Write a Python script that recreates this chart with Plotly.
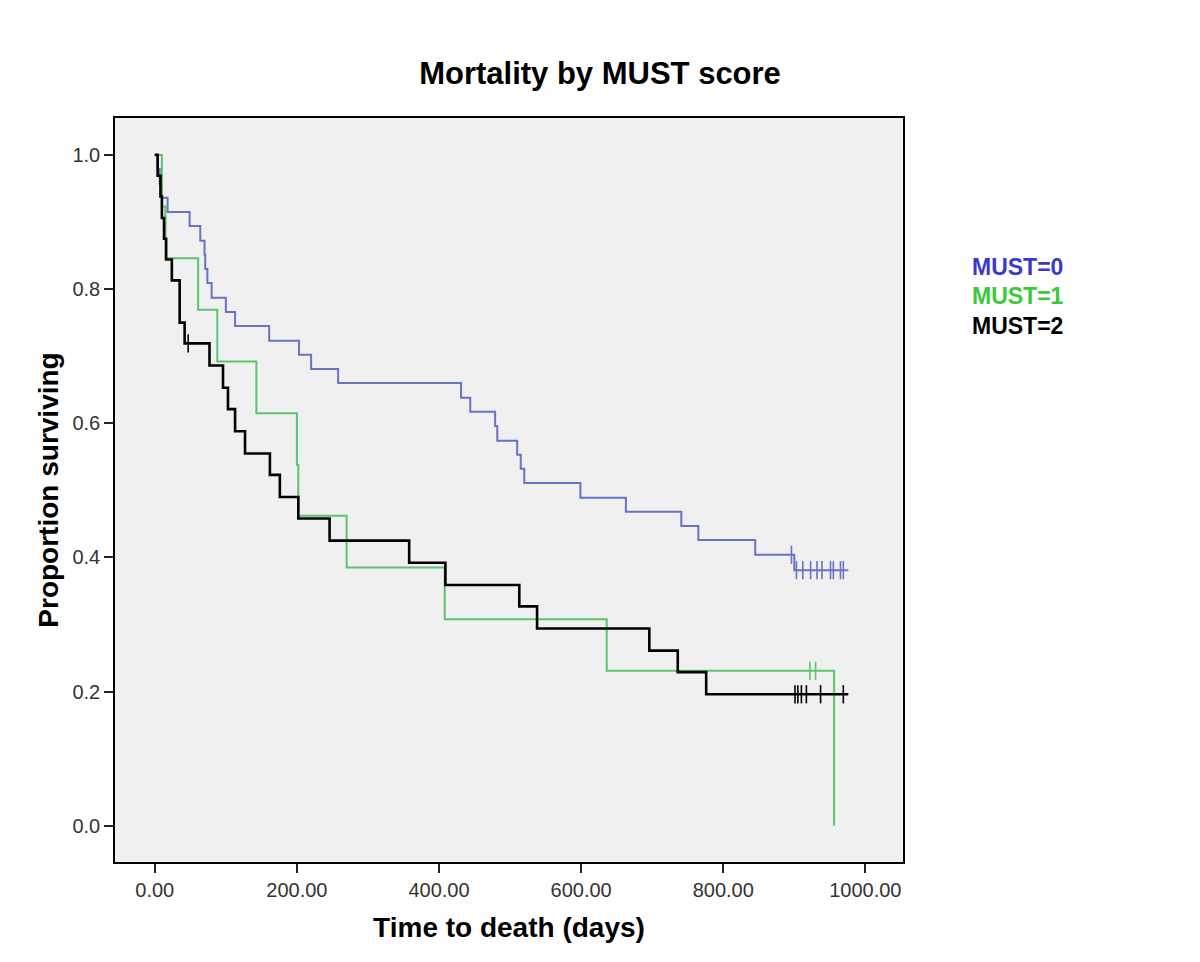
import plotly.graph_objects as go

# ---------------- data ----------------
groups = ["MUST=0", "MUST=1", "MUST=2"]

must0_days = [0, 4, 7, 10, 18, 49, 64, 70, 71, 74, 80, 100, 113, 161, 203, 220, 258,
              431, 444, 479, 482, 510, 515, 520, 599, 663, 741, 765, 845, 900]
must0_surv = [1.0, 0.979, 0.957, 0.936, 0.915, 0.894, 0.872, 0.851, 0.830, 0.809, 0.787,
              0.766, 0.745, 0.723, 0.702, 0.681, 0.660, 0.638, 0.617, 0.596, 0.574,
              0.553, 0.532, 0.511, 0.489, 0.468, 0.447, 0.426, 0.404, 0.381]
must0_last_day = 976
must0_cens_days = [896, 903, 912, 923, 932, 939, 951, 955, 965, 969]
must0_cens_surv = [0.404, 0.381, 0.381, 0.381, 0.381, 0.381, 0.381, 0.381, 0.381, 0.381]

must1_days = [0, 10, 15, 61, 88, 143, 200, 202, 270, 408, 636, 956]
must1_surv = [1.0, 0.923, 0.846, 0.769, 0.692, 0.615, 0.538, 0.462, 0.385, 0.308, 0.231, 0.0]
must1_cens_days = [922, 930]
must1_cens_surv = [0.231, 0.231]

must2_days = [0, 4, 8, 10, 13, 16, 24, 35, 42, 77, 96, 103, 113, 127, 162, 176, 202,
              246, 358, 409, 513, 538, 696, 736, 776]
must2_surv = [1.0, 0.969, 0.938, 0.906, 0.875, 0.844, 0.813, 0.750, 0.719, 0.686, 0.653,
              0.621, 0.588, 0.555, 0.523, 0.490, 0.458, 0.425, 0.392, 0.359, 0.327,
              0.294, 0.261, 0.229, 0.196]
must2_last_day = 976
must2_cens_days = [47, 901, 905, 910, 917, 937, 969]
must2_cens_surv = [0.719, 0.196, 0.196, 0.196, 0.196, 0.196, 0.196]

x_ticks = [0, 200, 400, 600, 800, 1000]
y_ticks = [0.0, 0.2, 0.4, 0.6, 0.8, 1.0]

# ---------------- styles ----------------
line_colors = ["#6673c6", "#5cc46c", "#000000"]
line_widths = [2, 2, 2.6]
text_colors = ["#3a3ac8", "#3cc83c", "#000000"]

# page body adds an 8px offset; margins compensate
OFF = 8
ML, MT, PW, PH = 115 - OFF, 118 - OFF, 788, 744
W, H = 1200, 962

fig = go.Figure()

series = [
    (must0_days + [must0_last_day], must0_surv + [must0_surv[-1]], must0_cens_days, must0_cens_surv),
    (must1_days, must1_surv, must1_cens_days, must1_cens_surv),
    (must2_days + [must2_last_day], must2_surv + [must2_surv[-1]], must2_cens_days, must2_cens_surv),
]

for i, (xd, yd, cx, cy) in enumerate(series):
    fig.add_trace(go.Scatter(
        x=xd, y=yd, mode="lines", line=dict(color=line_colors[i], width=line_widths[i], shape="hv"),
        name=groups[i], showlegend=False, hoverinfo="skip"))
    fig.add_trace(go.Scatter(
        x=cx, y=cy, mode="markers",
        marker=dict(symbol="line-ns-open", size=13, color=line_colors[i],
                    line=dict(color=line_colors[i], width=1.6)),
        name=groups[i] + " censored", showlegend=False, hoverinfo="skip"))

font_main = "Liberation Sans, Arial, sans-serif"

fig.update_layout(
    width=W, height=H,
    margin=dict(l=ML, r=W - ML - PW, t=MT, b=H - MT - PH),
    paper_bgcolor="white",
    plot_bgcolor="#f0f0f0",
    title=dict(text="<b>Mortality by MUST score</b>", x=(600 - OFF) / W, xanchor="center",
               y=1 - (73 - OFF) / H, yanchor="middle",
               font=dict(family=font_main, size=31, color="#000")),
    font=dict(family=font_main),
)

fig.update_xaxes(
    range=[-56, 1053], tickvals=x_ticks, tickformat=".2f",
    showgrid=False, zeroline=False,
    showline=True, mirror=True, linecolor="#000", linewidth=1.6,
    ticks="outside", ticklen=9, tickwidth=1.6, tickcolor="#222",
    tickfont=dict(family=font_main, size=20, color="#333"),
    title=dict(text="<b>Time to death (days)</b>", standoff=18,
               font=dict(family=font_main, size=28, color="#000")),
)
fig.update_yaxes(
    range=[-0.054, 1.055], tickvals=y_ticks, tickformat=".1f",
    showgrid=False, zeroline=False,
    showline=True, mirror=True, linecolor="#000", linewidth=1.6,
    ticks="outside", ticklen=9, tickwidth=1.6, tickcolor="#222",
    tickfont=dict(family=font_main, size=20, color="#333"),
    title=dict(text="<b>Proportion surviving</b>", standoff=6,
               font=dict(family=font_main, size=28, color="#000")),
)

# legend as coloured text labels (as in the reference)
legend_y_px = [267, 296, 326]
for i, g in enumerate(groups):
    fig.add_annotation(
        xref="paper", yref="paper",
        x=(970 - OFF - ML) / PW, y=1 - (legend_y_px[i] - OFF - MT) / PH,
        xanchor="left", yanchor="middle", showarrow=False,
        text="<b>" + g + "</b>",
        font=dict(family=font_main, size=23, color=text_colors[i]))

fig.write_html("out.html")
